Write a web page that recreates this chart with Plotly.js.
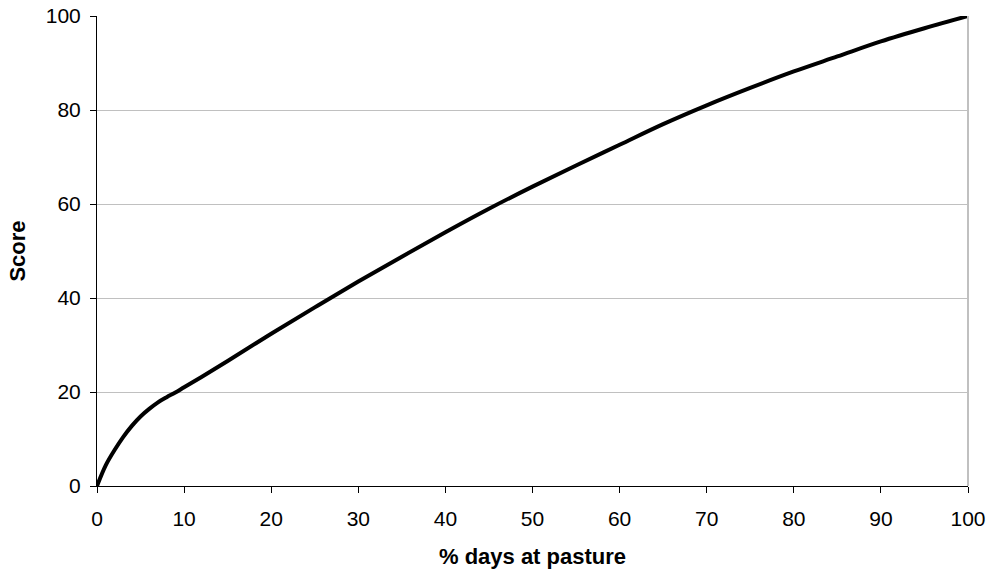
<!DOCTYPE html>
<html>
<head>
<meta charset="utf-8">
<script src="https://cdn.plot.ly/plotly-3.0.1.min.js"></script>
<style>html,body{margin:0;padding:0;background:#fff;}#chart{width:989px;height:573px;}</style>
</head>
<body>
<div id="chart"></div>
<script>
const daysAtPasture = [0, 1, 2, 3, 4, 5, 6, 7, 8, 9, 10, 12, 15, 20, 25, 30, 35, 40, 45, 50, 55, 60, 65, 70, 75, 80, 85, 90, 95, 100];
const score = [0, 4.4, 7.6, 10.4, 12.8, 14.8, 16.4, 17.8, 18.9, 19.9, 21, 23.2, 26.6, 32.4, 38, 43.5, 48.8, 54, 59, 63.7, 68.2, 72.6, 77, 81, 84.7, 88.2, 91.4, 94.6, 97.4, 100];
const xTicks = [0, 10, 20, 30, 40, 50, 60, 70, 80, 90, 100];
const yTicks = [0, 20, 40, 60, 80, 100];

const font = "Liberation Sans, Arial, sans-serif";
Plotly.newPlot('chart', [{
  x: daysAtPasture, y: score, type: 'scatter', mode: 'lines',
  line: {color: '#000', width: 4, shape: 'spline', smoothing: 1},
  hoverinfo: 'skip'
}], {
  width: 989, height: 573,
  margin: {l: 97, r: 21, t: 16, b: 87},
  paper_bgcolor: '#fff', plot_bgcolor: '#fff',
  showlegend: false,
  font: {family: font, size: 21, color: '#000'},
  xaxis: {
    range: [0, 100], tickvals: xTicks, ticktext: xTicks.map(String),
    showgrid: false, zeroline: false, showline: true, linecolor: '#000', linewidth: 1,
    ticks: 'outside', ticklen: 6, tickcolor: '#000', tickfont: {family: font, size: 21},
    ticklabelstandoff: 8,
    title: {text: '<b>% days at pasture</b>', font: {family: font, size: 22}, standoff: 19}
  },
  yaxis: {
    range: [0, 100], tickvals: yTicks, ticktext: yTicks.map(String),
    showgrid: true, gridcolor: '#c0c0c0', gridwidth: 1, zeroline: false,
    showline: true, linecolor: '#000', linewidth: 1,
    ticks: 'outside', ticklen: 6, tickcolor: '#000', tickfont: {family: font, size: 21},
    ticklabelstandoff: 5,
    title: {text: '<b>Score</b>', font: {family: font, size: 22}, standoff: 14}
  },
  shapes: [
    {type: 'line', xref: 'paper', yref: 'paper', x0: 1, x1: 1, y0: 0, y1: 1, line: {color: '#c0c0c0', width: 2}}
  ]
}, {displayModeBar: false, staticPlot: true});
</script>
</body>
</html>
